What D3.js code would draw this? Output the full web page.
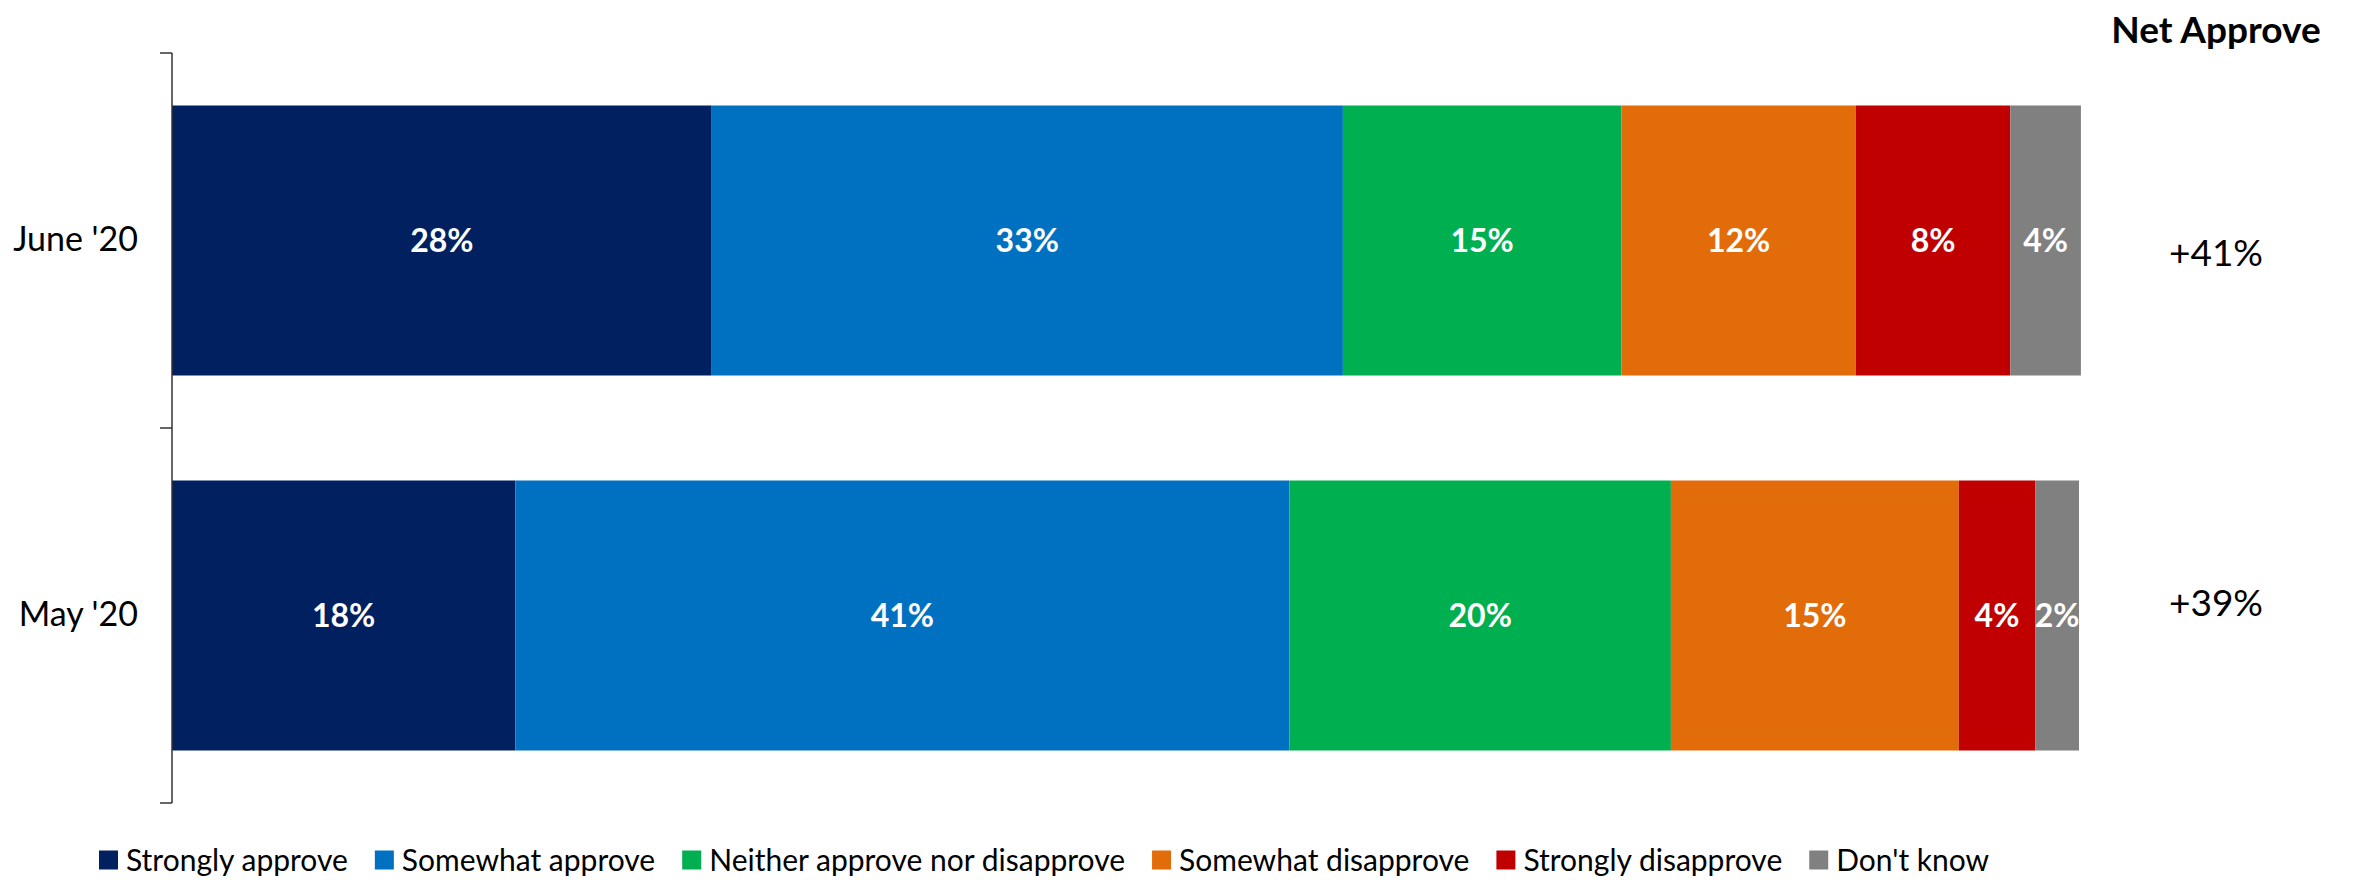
<!DOCTYPE html>
<html>
<head>
<meta charset="utf-8">
<script src="https://cdn.jsdelivr.net/npm/d3@7"></script>
<style>
  html, body { margin: 0; padding: 0; background: #ffffff; }
  svg { display: block; font-family: Lato, "Open Sans", sans-serif; }
</style>
</head>
<body>
<svg id="chart" width="2356" height="880"></svg>
<script>
// ---- data ----
const categories = ["June '20", "May '20"];
const seriesNames = ["Strongly approve", "Somewhat approve", "Neither approve nor disapprove", "Somewhat disapprove", "Strongly disapprove", "Don't know"];
const seriesColors = ["#002060", "#0070C0", "#00B050", "#E36C0A", "#C00000", "#808080"];
const june = [28.3, 33.1, 14.6, 12.3, 8.1, 3.7];
const may = [18.0, 40.6, 20.0, 15.1, 4.0, 2.3];
const netApprove = ["+41%", "+39%"];
const netTitle = "Net Approve";

// ---- layout ----
const W = 2356, H = 880;
const margin = { left: 172, right: 277, top: 53, bottom: 77 };
const svg = d3.select("#chart");

const x = d3.scaleLinear().domain([0, 100]).range([margin.left, W - margin.right]);
const y = d3.scaleBand().domain(categories).range([margin.top, H - margin.bottom])
  .paddingInner(0.28).paddingOuter(0.14);

const rows = [june, may];
const stackData = categories.map((c, i) => {
  const o = { cat: c };
  seriesNames.forEach((s, j) => { o[s] = rows[i][j]; });
  return o;
});
const stack = d3.stack().keys(seriesNames)(stackData);
const color = d3.scaleOrdinal().domain(seriesNames).range(seriesColors);

// bars
const g = svg.append("g");
const layers = g.selectAll("g.layer").data(stack).join("g")
  .attr("class", "layer").attr("fill", d => color(d.key));
layers.selectAll("rect").data(d => d.map(v => ({ v, key: d.key }))).join("rect")
  .attr("x", d => x(d.v[0]))
  .attr("y", d => y(d.v.data.cat))
  .attr("width", d => x(d.v[1]) - x(d.v[0]))
  .attr("height", y.bandwidth());

// value labels
layers.selectAll("text").data(d => d.map(v => ({ v, key: d.key }))).join("text")
  .attr("x", d => (x(d.v[0]) + x(d.v[1])) / 2)
  .attr("y", d => y(d.v.data.cat) + y.bandwidth() / 2)
  .attr("dy", "0.36em")
  .attr("text-anchor", "middle")
  .attr("fill", "#ffffff")
  .attr("font-weight", 700)
  .attr("font-size", 32)
  .text(d => Math.round(d.v[1] - d.v[0]) + "%");

// y axis
const yAxis = d3.axisLeft(y).tickSize(0).tickPadding(34);
const ax = svg.append("g").attr("transform", `translate(${margin.left},0)`).call(yAxis);
ax.select(".domain").attr("stroke", "#333").attr("stroke-width", 1.5);
ax.selectAll(".tick text").attr("font-size", 34).attr("fill", "#000")
  .attr("font-family", "Lato, sans-serif");
// boundary ticks between categories
const bounds = [y.range()[0]].concat(categories.map(c => y(c) - y.step() * y.paddingInner() / 2).slice(1), [y.range()[1]]);
ax.selectAll("line.bt").data(bounds).join("line").attr("class", "bt")
  .attr("x1", -12).attr("x2", 0).attr("y1", d => d).attr("y2", d => d)
  .attr("stroke", "#333").attr("stroke-width", 1.5);
ax.select(".domain").attr("d", `M0,${y.range()[0]}V${y.range()[1]}`);

// net approve
const netX = 2216;
svg.append("text").attr("x", netX).attr("y", 43).attr("text-anchor", "middle")
  .attr("font-weight", 700).attr("font-size", 37).attr("fill", "#000").text(netTitle);
const netOffsets = [12, -13];
svg.selectAll("text.net").data(categories).join("text").attr("class", "net")
  .attr("x", netX)
  .attr("y", (c, i) => y(c) + y.bandwidth() / 2 + netOffsets[i])
  .attr("dy", "0.36em")
  .attr("text-anchor", "middle")
  .attr("font-size", 37).attr("fill", "#000")
  .text((c, i) => netApprove[i]);

// legend
const legend = svg.append("g").attr("transform", "translate(99,860)");
let lx = 0;
seriesNames.forEach((s, i) => {
  const it = legend.append("g").attr("transform", `translate(${lx},0)`);
  it.append("rect").attr("x", 0).attr("y", -9.5).attr("width", 19).attr("height", 19).attr("fill", color(s));
  const t = it.append("text").attr("x", 27).attr("y", 0).attr("dy", "0.36em")
    .attr("font-size", 30).attr("fill", "#000").text(s);
  lx += 27 + t.node().getComputedTextLength() + 27;
});
</script>
</body>
</html>
